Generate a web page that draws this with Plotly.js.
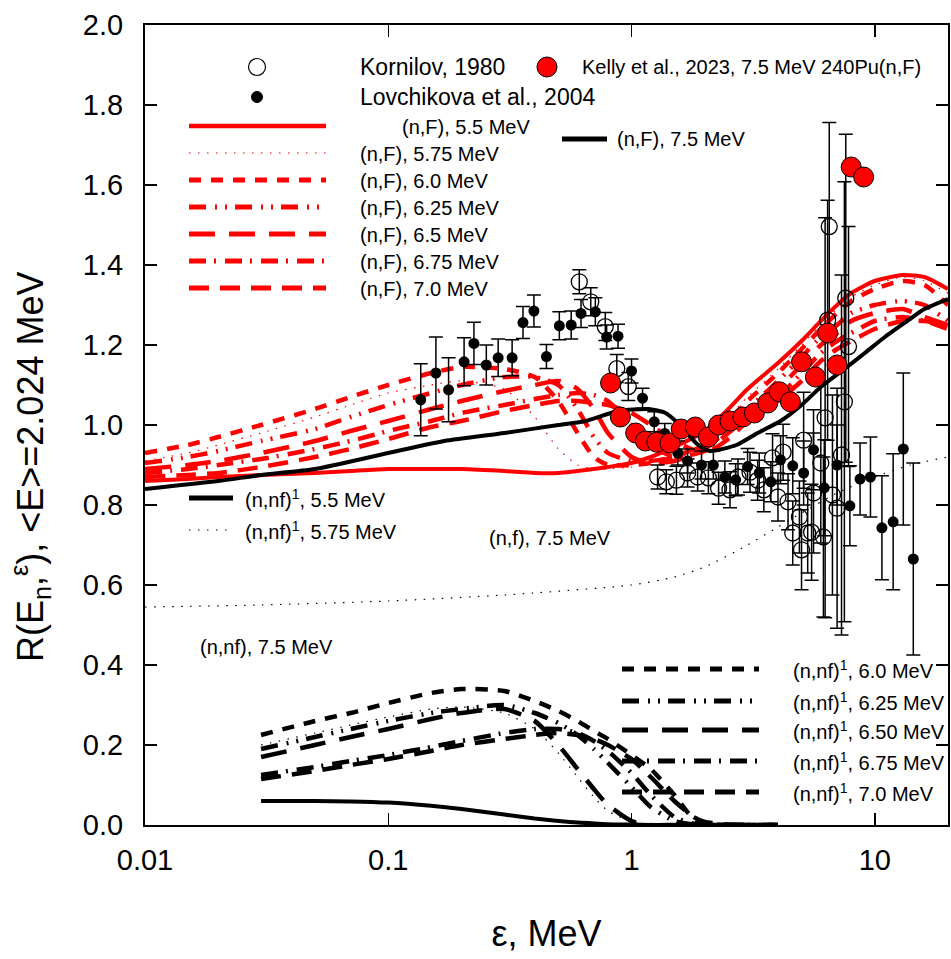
<!DOCTYPE html>
<html><head><meta charset="utf-8">
<script src="https://cdn.plot.ly/plotly-3.0.1.min.js"></script>
<style>html,body{margin:0;padding:0;background:#fff}#chart{width:951px;height:959px}</style>
</head><body><div id="chart"></div>
<script>
// ---------- data ----------
const epsF = [0.01,0.015,0.02,0.03,0.05,0.07,0.1,0.15,0.2,0.3,0.4,0.5,0.6,0.7,0.8,1.0,1.2,1.5,2.0,2.5,3,4,5,6,7,8,10,13,16,20];
const nF_55  = [0.86,0.865,0.87,0.875,0.88,0.885,0.89,0.89,0.89,0.885,0.88,0.88,0.885,0.89,0.895,0.905,0.92,0.945,0.985,1.04,1.09,1.155,1.21,1.26,1.30,1.33,1.36,1.375,1.37,1.34];
const nF_575 = [0.91,0.93,0.95,0.98,1.02,1.05,1.08,1.1,1.11,1.09,1.02,0.94,0.9,0.89,0.89,0.895,0.905,0.925,0.96,1.02,1.07,1.14,1.2,1.25,1.29,1.32,1.35,1.37,1.36,1.33];
const nF_60  = [0.93,0.95,0.97,1.0,1.04,1.07,1.1,1.13,1.145,1.14,1.12,1.06,0.98,0.92,0.9,0.9,0.905,0.92,0.955,1.01,1.06,1.13,1.19,1.24,1.28,1.31,1.34,1.36,1.35,1.3];
const nF_625 = [0.905,0.92,0.935,0.96,0.99,1.02,1.05,1.08,1.1,1.12,1.12,1.1,1.04,0.97,0.93,0.91,0.91,0.92,0.95,1.0,1.04,1.11,1.17,1.22,1.25,1.28,1.3,1.31,1.3,1.26];
const nF_65  = [0.89,0.9,0.91,0.93,0.96,0.985,1.01,1.04,1.06,1.085,1.1,1.11,1.09,1.04,0.98,0.92,0.905,0.91,0.94,0.99,1.03,1.09,1.15,1.2,1.23,1.26,1.28,1.29,1.27,1.25];
const nF_675 = [0.88,0.89,0.9,0.915,0.94,0.96,0.985,1.01,1.03,1.05,1.065,1.075,1.08,1.075,1.06,1.0,0.95,0.92,0.935,0.98,1.02,1.07,1.13,1.18,1.21,1.23,1.26,1.27,1.26,1.24];
const nF_70  = [0.87,0.875,0.88,0.895,0.92,0.94,0.965,0.995,1.01,1.035,1.05,1.06,1.06,1.055,1.05,1.03,1.0,0.96,0.93,0.965,1.01,1.06,1.11,1.16,1.19,1.21,1.24,1.26,1.26,1.25];

const epsF75 = [0.01,0.02,0.03,0.05,0.1,0.17,0.3,0.5,0.65,0.88,1.17,1.38,1.55,1.88,2.1,2.7,3.3,4.1,5,6,7.5,9.1,11,13.6,16,20];
const nF_75  = [0.84,0.86,0.875,0.89,0.93,0.96,0.98,1.0,1.01,1.035,1.04,1.03,1.005,0.95,0.935,0.95,0.98,1.01,1.05,1.095,1.14,1.18,1.22,1.26,1.29,1.315];

const epsNf75 = [0.01,0.03,0.1,0.3,1,1.5,2,3,4,5,7,10,14,20];
const nf_75   = [0.545,0.55,0.56,0.575,0.6,0.62,0.645,0.7,0.745,0.78,0.83,0.87,0.9,0.92];

const epsNnf = [0.03,0.05,0.07,0.1,0.15,0.2,0.3,0.4,0.5,0.6,0.7,0.8,1.0,1.2,1.5,1.8,2.0,2.5,3,4];
const nnf_55  = [0.06,0.06,0.059,0.056,0.048,0.04,0.026,0.016,0.01,0.006,0.004,0.002,0.001,0,0,0,0,0,0,0];
const nnf_575 = [0.2,0.23,0.25,0.27,0.29,0.295,0.28,0.24,0.18,0.12,0.07,0.035,0.008,0,0,0,0,0,0,0];
const nnf_60  = [0.225,0.26,0.28,0.305,0.33,0.34,0.335,0.31,0.285,0.26,0.235,0.215,0.175,0.14,0.075,0.015,0.004,0,0,0];
const nnf_625 = [0.19,0.22,0.24,0.26,0.28,0.29,0.30,0.28,0.255,0.225,0.19,0.155,0.095,0.045,0.01,0.001,0,0,0,0];
const nnf_65  = [0.17,0.2,0.22,0.24,0.265,0.28,0.29,0.26,0.2,0.14,0.09,0.05,0.01,0,0,0,0,0,0,0];
const nnf_675 = [0.125,0.145,0.16,0.175,0.195,0.21,0.23,0.24,0.24,0.23,0.21,0.185,0.13,0.075,0.02,0.003,0,0,0,0];
const nnf_70  = [0.115,0.135,0.15,0.165,0.185,0.2,0.215,0.225,0.23,0.225,0.215,0.2,0.165,0.12,0.06,0.02,0.008,0.001,0,0];

const kornX = [0.61,0.68,0.78,0.87,0.97,1.28,1.39,1.53,1.7,1.87,2.07,2.28,2.54,2.74,3.07,3.3,3.5,3.8,4.0,4.2,4.4,4.6,4.9,5.0,5.1,5.3,5.5,5.6,6.0,6.15,6.25,6.4,6.5,6.7,7.0,7.3,7.5,7.6,7.8];
const kornY = [1.358,1.308,1.246,1.141,1.096,0.87,0.858,0.862,0.88,0.87,0.868,0.842,0.838,0.87,0.882,0.862,0.838,0.918,0.82,0.932,0.808,0.73,0.77,0.688,0.962,0.73,0.732,0.83,0.905,0.72,1.018,1.262,1.496,0.825,0.792,0.925,1.058,1.317,1.196];
const kornErr = [0.03,0.035,0.035,0.035,0.035,0.03,0.03,0.035,0.035,0.035,0.04,0.04,0.045,0.045,0.05,0.05,0.055,0.06,0.06,0.07,0.07,0.08,0.09,0.1,0.12,0.1,0.12,0.15,0.2,0.2,0.5,0.3,0.26,0.25,0.3,0.45,0.55,0.41,0.3];

const lovX = [0.136,0.157,0.177,0.205,0.225,0.253,0.283,0.323,0.358,0.397,0.447,0.505,0.565,0.62,0.71,0.79,0.88,1.0,1.11,1.24,1.37,1.55,1.7,1.94,2.17,2.42,2.68,3.0,3.35,3.74,4.1,4.6,5.1,5.6,6.2,7.0,7.9,8.7,9.6,10.7,11.9,13.1,14.4];
const lovY = [1.063,1.13,1.088,1.158,1.204,1.15,1.168,1.168,1.256,1.285,1.171,1.248,1.25,1.279,1.283,1.22,1.222,1.135,1.067,1.008,0.979,0.93,0.91,0.9,0.9,0.87,0.863,0.896,0.88,0.858,0.913,0.898,0.88,0.938,0.843,0.9,0.798,0.865,0.87,0.743,0.758,0.94,0.665];
const lovErr = [0.09,0.09,0.08,0.06,0.053,0.05,0.047,0.045,0.04,0.04,0.03,0.035,0.035,0.035,0.035,0.03,0.03,0.03,0.025,0.025,0.025,0.03,0.03,0.035,0.035,0.04,0.04,0.045,0.05,0.05,0.06,0.07,0.08,0.1,0.12,0.1,0.1,0.09,0.1,0.13,0.17,0.19,0.24];

const kellyX = [0.82,0.90,1.04,1.14,1.27,1.44,1.6,1.83,2.07,2.28,2.54,2.87,3.2,3.63,4.05,4.5,5.0,5.7,6.4,7.0,8.0,9.0];
const kellyY = [1.105,1.02,0.98,0.96,0.957,0.955,0.99,0.995,0.97,1.0,1.01,1.02,1.03,1.055,1.083,1.058,1.158,1.12,1.23,1.15,1.645,1.62];

const xTickVals = [0.01,0.1,1,10];
const xTickText = ['0.01','0.1','1','10'];
const yTickVals = [0,0.2,0.4,0.6,0.8,1.0,1.2,1.4,1.6,1.8,2.0];

// ---------- styles ----------
const FONT = 'Liberation Sans, Arial, Helvetica, sans-serif';
const RED = '#ff0000';
const D = {
  solid: 'solid',
  dot: '1.5px,7.5px',
  d60: '12px,10px',
  d625: '17px,9px,2px,8px,2px,8px',
  d65: '26px,14px',
  d675: '17px,8px,2px,9px',
  d70: '20px,11px'
};
function ln(x, y, color, width, dash) {
  return {type:'scatter', mode:'lines', x:x, y:y, showlegend:false, hoverinfo:'skip',
          line:{color:color, width:width, dash:dash, shape:'spline', smoothing:0.6}};
}
const traces = [
  ln(epsF, nF_70, RED, 4.5, D.d70),
  ln(epsF, nF_675, RED, 4.5, D.d675),
  ln(epsF, nF_65, RED, 4.5, D.d65),
  ln(epsF, nF_625, RED, 4.5, D.d625),
  ln(epsF, nF_60, RED, 4.5, D.d60),
  ln(epsF, nF_575, RED, 1.2, D.dot),
  ln(epsF, nF_55, RED, 4, D.solid),
  ln(epsF75, nF_75, 'black', 4, D.solid),
  ln(epsNf75, nf_75, 'black', 1.2, D.dot),
  ln(epsNnf, nnf_55, 'black', 4, D.solid),
  ln(epsNnf, nnf_575, 'black', 1.2, D.dot),
  ln(epsNnf, nnf_60, 'black', 4.5, D.d60),
  ln(epsNnf, nnf_625, 'black', 4.5, D.d625),
  ln(epsNnf, nnf_65, 'black', 4.5, D.d65),
  ln(epsNnf, nnf_675, 'black', 4.5, D.d675),
  ln(epsNnf, nnf_70, 'black', 4.5, D.d70),
  {type:'scatter', mode:'markers', x:kornX, y:kornY, name:'Kornilov, 1980', showlegend:false,
   marker:{symbol:'circle-open', size:16, color:'black', line:{width:1.3}},
   error_y:{type:'data', array:kornErr, color:'black', thickness:1.5, width:7}},
  {type:'scatter', mode:'markers', x:lovX, y:lovY, name:'Lovchikova et al., 2004', showlegend:false,
   marker:{symbol:'circle', size:11, color:'black'},
   error_y:{type:'data', array:lovErr, color:'black', thickness:1.5, width:7}},
  {type:'scatter', mode:'markers', x:kellyX, y:kellyY, name:'Kelly et al., 2023', showlegend:false,
   marker:{symbol:'circle', size:20, color:RED, line:{color:'black', width:1}}}
];

// ---------- legend (pixel helpers) ----------
const L = 145, PW = 803, B = 825, PH = 800;
const px = p => (p - L) / PW;
const py = p => (B - p) / PH;
const shapes = [];
const ann = [];
function sLine(x0, x1, y, color, width, dash) {
  shapes.push({type:'line', xref:'paper', yref:'paper', x0:px(x0), x1:px(x1), y0:py(y), y1:py(y),
               line:{color:color, width:width, dash:dash}});
}
function sCirc(cx, cy, r, fill, lc, lw) {
  shapes.push({type:'circle', xref:'paper', yref:'paper', x0:px(cx-r), x1:px(cx+r), y0:py(cy+r), y1:py(cy-r),
               fillcolor:fill, line:{color:lc, width:lw}});
}
function txt(x, y, t, size) {
  ann.push({xref:'paper', yref:'paper', x:px(x), y:py(y), xanchor:'left', yanchor:'middle', text:t,
            showarrow:false, font:{family:FONT, size:size||20, color:'black'}});
}
sCirc(257, 67, 8.5, 'white', 'black', 1.2);
sCirc(257, 97, 5.5, 'black', 'black', 1);
sCirc(547, 67, 10, RED, 'black', 1);
txt(358, 67, 'Kornilov, 1980', 23);
txt(358, 97, 'Lovchikova et al., 2004', 23);
txt(580, 67, 'Kelly et al., 2023, 7.5 MeV 240Pu(n,F)', 20);
const redLeg = [[126,D.solid,4.5,'(n,F), 5.5 MeV',400],[153,D.dot,1.2,'(n,F), 5.75 MeV',358],[180,D.d60,5,'(n,F), 6.0 MeV',358],
  [207,D.d625,5,'(n,F), 6.25 MeV',358],[234,D.d65,5,'(n,F), 6.5 MeV',358],[261,D.d675,5,'(n,F), 6.75 MeV',358],[288,D.d70,5,'(n,F), 7.0 MeV',358]];
redLeg.forEach(r => { sLine(189, 326, r[0], RED, r[2], r[1]); txt(r[4], r[0]+1, r[3], 20); });
sLine(562, 607, 139, 'black', 5, D.solid); txt(615, 139, '(n,F), 7.5 MeV', 20);
sLine(189, 233, 498, 'black', 5, D.solid); txt(243, 498, '(n,nf)<sup>1</sup>, 5.5 MeV', 20);
sLine(189, 233, 530, 'black', 1.2, D.dot); txt(243, 530, '(n,nf)<sup>1</sup>, 5.75 MeV', 20);
txt(487, 538, '(n,f), 7.5 MeV', 20);
txt(198, 647, '(n,nf), 7.5 MeV', 20);
const blkLeg = [[669,D.d60,'6.0 MeV'],[701,D.d625,'6.25 MeV'],[730,D.d65,'6.50 MeV'],[761,D.d675,'6.75 MeV'],[792,D.d70,'7.0 MeV']];
blkLeg.forEach(r => { sLine(622, 759, r[0], 'black', 5, r[1]); txt(791, r[0], '(n,nf)<sup>1</sup>, ' + r[2], 20); });
// y-axis title
ann.push({xref:'paper', yref:'paper', x:px(30), y:py(467), xanchor:'center', yanchor:'middle', textangle:-90,
          text:'R(E<sub>n</sub>,<sup>ε</sup>), &lt;E&gt;=2.024 MeV', showarrow:false, font:{family:FONT, size:36, color:'black'}});

const layout = {
  width:951, height:959, margin:{l:145, r:3, t:25, b:134},
  paper_bgcolor:'white', plot_bgcolor:'white', showlegend:false,
  font:{family:FONT, color:'black'},
  xaxis:{type:'log', range:[-2, Math.log10(20)], tickvals:xTickVals, ticktext:xTickText,
         ticks:'inside', ticklen:12, tickwidth:1.5, tickcolor:'black', showline:true, linewidth:2, linecolor:'black',
         mirror:'ticks', showgrid:false, zeroline:false, tickfont:{size:29, family:FONT}, ticklabelstandoff:8,
         title:{text:'ε, MeV', font:{size:36, family:FONT}, standoff:46}},
  yaxis:{range:[0,2], tickvals:yTickVals, tickformat:'.1f',
         ticks:'inside', ticklen:12, tickwidth:1.5, tickcolor:'black', showline:true, linewidth:2, linecolor:'black',
         mirror:'ticks', showgrid:false, zeroline:false, tickfont:{size:29, family:FONT}, ticklabelstandoff:14},
  shapes:shapes, annotations:ann
};
Plotly.newPlot('chart', traces, layout, {displayModeBar:false, staticPlot:true});
</script></body></html>
